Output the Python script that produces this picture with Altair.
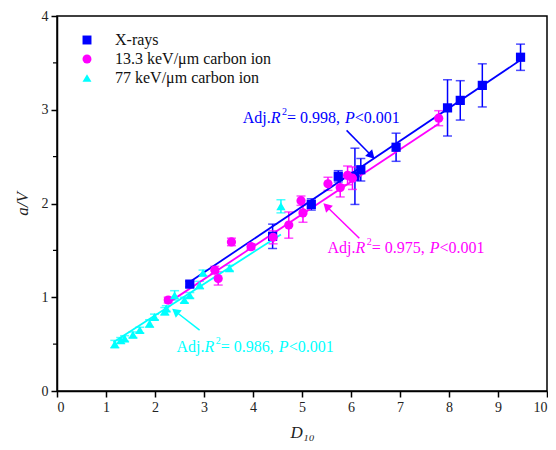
import altair as alt
import pandas as pd

series_names = ["X-rays", "13.3 keV/μm carbon ion", "77 keV/μm carbon ion"]
series_colors = ["#0000ff", "#ff00ff", "#00ffff"]
series_shapes = ["square", "circle", "triangle-up"]

xray_x = [2.71, 4.40, 5.19, 5.74, 6.08, 6.20, 6.92, 7.97, 8.23, 8.68, 9.46]
xray_y = [1.14, 1.65, 1.99, 2.29, 2.29, 2.36, 2.60, 3.02, 3.10, 3.26, 3.56]
xray_e = [0.03, 0.13, 0.06, 0.06, 0.30, 0.12, 0.15, 0.30, 0.21, 0.23, 0.14]

c13_x = [2.27, 3.22, 3.29, 3.56, 3.96, 4.41, 4.73, 4.98, 5.02, 5.53, 5.78, 5.93, 6.03, 7.79]
c13_y = [0.97, 1.29, 1.20, 1.59, 1.54, 1.64, 1.77, 2.03, 1.90, 2.21, 2.17, 2.30, 2.27, 2.91]
c13_e = [0.03, 0.04, 0.07, 0.04, 0.03, 0.07, 0.14, 0.05, 0.10, 0.07, 0.10, 0.10, 0.12, 0.08]

c77_x = [1.18, 1.30, 1.38, 1.55, 1.69, 1.89, 1.99, 2.20, 2.23, 2.40, 2.60, 2.71, 2.91, 2.98, 3.52, 4.57]
c77_y = [0.50, 0.54, 0.56, 0.60, 0.65, 0.72, 0.79, 0.85, 0.88, 1.02, 0.97, 1.02, 1.13, 1.26, 1.31, 1.97]
c77_e = [0.04, 0.03, 0.03, 0.03, 0.03, 0.04, 0.03, 0.04, 0.03, 0.05, 0.03, 0.03, 0.04, 0.03, 0.03, 0.07]

# fitted lines, end points
fit_x = {"X-rays": [2.70, 9.46], "13.3 keV/μm carbon ion": [2.27, 7.79],
         "77 keV/μm carbon ion": [1.15, 4.57]}
fit_y = {"X-rays": [1.16, 3.53], "13.3 keV/μm carbon ion": [0.94, 2.85],
         "77 keV/μm carbon ion": [0.52, 1.67]}

ann_r2 = ["0.998", "0.975", "0.986"]
ann_x = [3.79, 5.52, 2.44]   # left edge of each annotation (data units)
ann_y = [2.91, 1.525, 0.47]
arr_x0 = [5.91, 6.17, 2.91]
arr_y0 = [2.78, 1.63, 0.65]
arr_x1 = [6.40, 5.52, 2.44]
arr_y1 = [2.52, 1.96, 0.84]
arr_ang = [136, 314, 308]

y_minor = [0.5, 1.5, 2.5, 3.5]

rows = []
for name, xs, ys, es in [(series_names[0], xray_x, xray_y, xray_e),
                         (series_names[1], c13_x, c13_y, c13_e),
                         (series_names[2], c77_x, c77_y, c77_e)]:
    for x, y, e in zip(xs, ys, es):
        rows.append(dict(series=name, x=x, y=y, lo=y - e, hi=y + e))
df = pd.DataFrame(rows)

fit_df = pd.DataFrame([dict(series=n, x=x, y=y) for n in series_names
                       for x, y in zip(fit_x[n], fit_y[n])])

FONT = "Liberation Serif"
FS = 16
W = {"A": 0.722, "d": 0.5, "j": 0.278, ".": 0.25, "R": 0.611, " ": 0.25, "=": 0.564,
     ",": 0.25, "P": 0.611, "<": 0.564}
for dch in "0123456789":
    W[dch] = 0.5

def width(s, fs=FS):
    return sum(W.get(c, 0.5) for c in s) * fs

seg_defs = [("Adj.", "normal", FS, 0), ("R", "italic", FS, 0), ("2", "normal", 10, -6),
            (" = {r},", "normal", FS, 0), ("P", "italic", FS, 0), ("<0.001", "normal", FS, 0)]
gap_after = {1: 1.5, 3: 1.0}

pieces = []
for i, name in enumerate(series_names):
    off = 0.0
    for j, (pat, style, fs, dy) in enumerate(seg_defs):
        txt = pat.format(r=ann_r2[i])
        pieces.append(dict(series=name, seg=j, text=txt, tx=ann_x[i], ty=ann_y[i], off=off))
        off += width(txt, fs) + gap_after.get(j, 0)
pc = pd.DataFrame(pieces)

ann = pd.DataFrame(dict(series=series_names, x0=arr_x0, y0=arr_y0, x1=arr_x1, y1=arr_y1,
                        ang=arr_ang))

xsc = alt.Scale(domain=[0, 10], nice=False)
ysc = alt.Scale(domain=[0, 4], nice=False)
cscale = alt.Scale(domain=series_names, range=series_colors)
sscale = alt.Scale(domain=series_names, range=series_shapes)

X = alt.X("x:Q", scale=xsc, axis=alt.Axis(values=list(range(0, 11)), title="D₁₀",
                                          titleFontStyle="italic", format="d"))
Y = alt.Y("y:Q", scale=ysc, axis=alt.Axis(values=[0, 1, 2, 3, 4], title="a/V",
                                          titleFontStyle="italic", format="d"))
C = alt.Color("series:N", scale=cscale, legend=None)

base = alt.Chart(df)

bars = base.mark_rule(strokeWidth=1.5).encode(
    x=alt.X("x:Q", scale=xsc), y=alt.Y("lo:Q", scale=ysc), y2="hi:Q", color=C)
cap_lo = base.mark_tick(orient="horizontal", size=9, thickness=1.5).encode(
    x=alt.X("x:Q", scale=xsc), y=alt.Y("lo:Q", scale=ysc), color=C)
cap_hi = base.mark_tick(orient="horizontal", size=9, thickness=1.5).encode(
    x=alt.X("x:Q", scale=xsc), y=alt.Y("hi:Q", scale=ysc), color=C)

fit = alt.Chart(fit_df).mark_line(strokeWidth=1.8).encode(
    x=alt.X("x:Q", scale=xsc), y=alt.Y("y:Q", scale=ysc), color=C, detail="series:N")

leg = alt.Legend(title=None, orient="none", legendX=22, legendY=16,
                 labelFont=FONT, labelFontSize=16, symbolSize=80, labelColor="#111",
                 rowPadding=3, labelOffset=20, symbolStrokeWidth=0)
pts = base.mark_point(filled=True, opacity=1, size=85).encode(
    x=X, y=Y,
    color=alt.Color("series:N", scale=cscale, legend=leg),
    shape=alt.Shape("series:N", scale=sscale, legend=leg),
)

abase = alt.Chart(ann)
arrows = abase.mark_rule(strokeWidth=1.5).encode(
    x=alt.X("x0:Q", scale=xsc), y=alt.Y("y0:Q", scale=ysc),
    x2="x1:Q", y2="y1:Q", color=C)
heads = abase.mark_point(shape="triangle", filled=True, opacity=1, size=95).encode(
    x=alt.X("x1:Q", scale=xsc), y=alt.Y("y1:Q", scale=ysc),
    angle=alt.Angle("ang:Q", scale=None), color=C)

text_layers = []
for j, (pat, style, fs, dy) in enumerate(seg_defs):
    dx = float(pc[pc.seg == j].off.iloc[0])
    text_layers.append(
        alt.Chart(pc).transform_filter(alt.datum.seg == j).mark_text(
            font=FONT, align="left", baseline="middle", fontStyle=style, fontSize=fs,
            dx=dx, dy=dy).encode(
            x=alt.X("tx:Q", scale=xsc), y=alt.Y("ty:Q", scale=ysc), text="text:N", color=C))

minor = alt.Chart(pd.DataFrame(dict(v=y_minor))).mark_rule(color="black", strokeWidth=1.2).encode(
    y=alt.Y("v:Q", scale=ysc), x=alt.value(0), x2=alt.value(-4))

chart = alt.layer(bars, cap_lo, cap_hi, fit, pts, arrows, heads, *text_layers, minor).resolve_legend(
    color="independent", shape="independent"
).properties(
    width=490, height=375,
    autosize=alt.AutoSizeParams(type="none"),
    padding={"left": 49, "top": 8, "right": 1, "bottom": 50},
).configure(font=FONT).configure_view(stroke="black", strokeWidth=1.5).configure_axis(
    grid=False, domainColor="black", domainWidth=1.5, tickColor="black", tickWidth=1.5,
    tickSize=6, labelFont=FONT, labelFontSize=14, labelColor="#222", titleFont=FONT,
    titleFontSize=17, titleFontWeight="normal", titleColor="#222", labelPadding=3,
).configure_axisY(titlePadding=10).configure_axisX(titlePadding=10).configure_legend(
    labelFont=FONT, labelFontSize=16, labelColor="#111")

chart.save("out.html", embed_options={"renderer": "svg", "actions": False})
